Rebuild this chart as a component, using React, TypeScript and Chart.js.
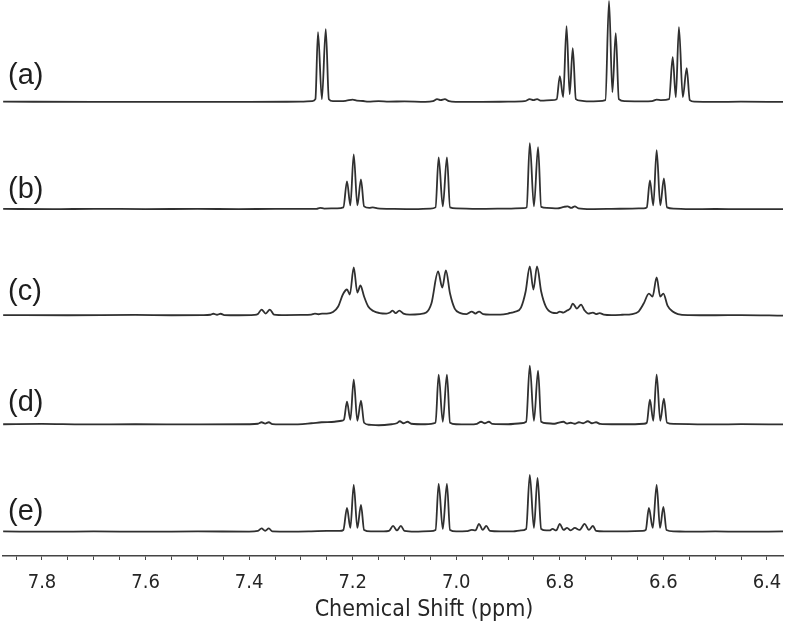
import React, { useEffect, useRef } from 'react';
import { Chart, registerables } from 'chart.js';

Chart.register(...registerables);

// ---- data (ppm, intensity) ----
const traceLabels = ['(a)', '(b)', '(c)', '(d)', '(e)'];
const axisTitle = 'Chemical Shift (ppm)';
const majorTicks = [7.8, 7.6, 7.4, 7.2, 7.0, 6.8, 6.6, 6.4];
const minorTicks = [7.85, 7.75, 7.7, 7.65, 7.55, 7.5, 7.45, 7.35, 7.3, 7.25, 7.15, 7.1, 7.05, 6.95, 6.9, 6.85, 6.75, 6.7, 6.65, 6.55, 6.5, 6.45];

const spectrumA: [number, number][] = [
  [7.875, 0.5], [7.7, 0.3], [7.55, 0.4], [7.4, 0.3], [7.3, 0.5], [7.278, 1], [7.272, 3], [7.267, 70], [7.2595, 3], [7.252, 73], [7.246, 3], [7.238, 1],
  [7.222, 1], [7.212, 1.5], [7.2, 2.5], [7.192, 1.5], [7.18, 1.2], [7.17, 0.5], [7.15, 1], [7.13, 0.6], [7.1, 0.8], [7.06, 0.4], [7.045, 1], [7.037, 3],
  [7.03, 2], [7.022, 3], [7.014, 1], [7.0, 0.4], [6.95, 0.3], [6.9, 0.5], [6.868, 1], [6.858, 3], [6.851, 2], [6.844, 3], [6.836, 1.5], [6.816, 2],
  [6.806, 3], [6.8, 26], [6.7935, 5], [6.787, 76], [6.781, 8], [6.775, 54], [6.769, 3], [6.76, 1.5], [6.745, 0.8], [6.725, 1], [6.712, 2], [6.705, 101],
  [6.6985, 10], [6.692, 69], [6.686, 3], [6.675, 1], [6.64, 0.8], [6.622, 1], [6.613, 2.5], [6.604, 2], [6.589, 3], [6.582, 45], [6.576, 5], [6.57, 75],
  [6.5625, 5], [6.555, 34], [6.549, 2], [6.54, 0.5], [6.5, 0.3], [6.45, 0.5], [6.369, 0.3],
];

const spectrumB: [number, number][] = [
  [7.875, 0.5], [7.78, 0.2], [7.7, 0.6], [7.6, 0.3], [7.5, 0.5], [7.42, 0.3], [7.35, 0.5], [7.27, 0.6], [7.263, 1.5], [7.255, 0.8], [7.23, 1], [7.218, 2],
  [7.211, 28], [7.2045, 4], [7.198, 55], [7.191, 4], [7.184, 30], [7.178, 3], [7.168, 1.5], [7.161, 2], [7.152, 1], [7.12, 0.5], [7.08, 0.3], [7.05, 0.8],
  [7.04, 2], [7.034, 52], [7.026, 3], [7.018, 52], [7.012, 2], [7.0, 1], [6.96, 0.5], [6.9, 0.8], [6.87, 1.2], [6.864, 2], [6.858, 66], [6.85, 3],
  [6.842, 62], [6.836, 2.5], [6.825, 1.5], [6.805, 1], [6.792, 2.5], [6.785, 3], [6.778, 1.5], [6.771, 3], [6.764, 1], [6.74, 0.3], [6.7, 0.5], [6.66, 0.8],
  [6.638, 1], [6.632, 2], [6.626, 29], [6.6195, 4], [6.613, 59], [6.606, 4], [6.599, 31], [6.593, 2], [6.58, 0.8], [6.55, 0.3], [6.5, 0.4], [6.45, 0.3], [6.369, 0.3],
];

const spectrumC: [number, number][] = [
  [7.875, 0.5], [7.75, 0.3], [7.62, 0.6], [7.55, 0.3], [7.49, 0.5], [7.475, 0.8], [7.469, 1.8], [7.462, 0.8], [7.455, 1.8], [7.448, 0.5], [7.42, 0.3],
  [7.39, 0.6], [7.383, 1.5], [7.376, 6], [7.368, 2], [7.36, 6], [7.352, 1], [7.33, 0.5], [7.3, 0.6], [7.28, 1], [7.273, 2], [7.266, 1.3], [7.259, 2],
  [7.25, 2], [7.238, 3.5], [7.228, 9], [7.219, 21], [7.211, 26], [7.2055, 21], [7.198, 48], [7.191, 23], [7.185, 30], [7.178, 19], [7.17, 9], [7.16, 4.5],
  [7.148, 2.5], [7.135, 2], [7.128, 3], [7.123, 5], [7.117, 2.5], [7.11, 5], [7.102, 2], [7.09, 1], [7.07, 1.5], [7.058, 3], [7.048, 12], [7.035, 44],
  [7.027, 28], [7.02, 45], [7.012, 22], [7.003, 7], [6.992, 2.5], [6.98, 1.5], [6.97, 4], [6.963, 2], [6.956, 4], [6.948, 1.5], [6.935, 1], [6.915, 1],
  [6.9, 2], [6.893, 3], [6.885, 4], [6.875, 8], [6.866, 24], [6.858, 49], [6.851, 26], [6.844, 49], [6.836, 24], [6.827, 9], [6.815, 3], [6.806, 2.5],
  [6.8, 4], [6.793, 3], [6.786, 5], [6.78, 7], [6.775, 12], [6.767, 7], [6.759, 11], [6.752, 5], [6.745, 2], [6.736, 3], [6.73, 1.5], [6.723, 2.5],
  [6.715, 1], [6.7, 0.5], [6.68, 0.8], [6.66, 1.5], [6.648, 4], [6.638, 12], [6.628, 22], [6.621, 19], [6.613, 38], [6.606, 19], [6.6, 22], [6.592, 10],
  [6.582, 4], [6.572, 1.5], [6.55, 0.5], [6.5, 0.3], [6.45, 0.5], [6.369, 0],
];

const spectrumD: [number, number][] = [
  [7.875, 0.5], [7.8, 0.8], [7.72, 0.3], [7.62, 0.5], [7.5, 0.3], [7.4, 0.5], [7.383, 1], [7.376, 2.5], [7.369, 1.2], [7.362, 2.5], [7.355, 0.6], [7.32, 0.3],
  [7.28, 1.5], [7.26, 2.5], [7.235, 3], [7.222, 4], [7.217, 5], [7.211, 23], [7.2045, 5], [7.198, 45], [7.191, 4], [7.184, 24], [7.178, 2], [7.168, 0],
  [7.15, -0.5], [7.125, 0.5], [7.115, 1.5], [7.109, 3.5], [7.102, 1.5], [7.094, 3], [7.087, 1], [7.06, 0.5], [7.04, 2], [7.034, 50], [7.026, 3], [7.018, 50],
  [7.012, 2], [7.0, 0.5], [6.975, 0.3], [6.96, 1], [6.952, 3], [6.945, 1.5], [6.937, 3], [6.93, 0.8], [6.9, 0.5], [6.875, 1.5], [6.865, 3], [6.858, 59],
  [6.85, 4], [6.842, 54], [6.836, 3], [6.825, 1.5], [6.81, 1], [6.8, 2.5], [6.793, 3], [6.786, 1.2], [6.779, 2], [6.771, 1], [6.763, 2.5], [6.755, 1.5],
  [6.746, 3.5], [6.738, 1.5], [6.73, 2.5], [6.722, 0.8], [6.7, 0.5], [6.66, 0.5], [6.638, 1], [6.632, 2], [6.626, 25], [6.6195, 4], [6.613, 50], [6.606, 4],
  [6.599, 26], [6.593, 2], [6.58, 0.8], [6.55, 0.6], [6.5, 0.3], [6.45, 0.6], [6.369, 0.3],
];

const spectrumE: [number, number][] = [
  [7.875, 0.5], [7.78, 0.3], [7.7, 0.5], [7.6, 0.3], [7.5, 0.5], [7.4, 0.4], [7.383, 1], [7.376, 3.5], [7.369, 1.2], [7.362, 3.5], [7.355, 0.5], [7.32, 0.3],
  [7.28, 0.6], [7.25, 1], [7.225, 1], [7.218, 2], [7.211, 24], [7.2045, 4], [7.198, 47], [7.191, 4], [7.184, 27], [7.178, 2], [7.165, 0.5], [7.14, 0.5],
  [7.13, 1], [7.122, 6], [7.1145, 1.5], [7.107, 6], [7.1, 1], [7.08, 0.3], [7.05, 0.8], [7.04, 2], [7.034, 48], [7.026, 3], [7.018, 48], [7.012, 2],
  [7.0, 0.5], [6.98, 0.8], [6.97, 2], [6.963, 1.5], [6.956, 8], [6.949, 2], [6.942, 6], [6.935, 1], [6.915, 0.5], [6.89, 0.5], [6.875, 1.5], [6.865, 3],
  [6.858, 57], [6.85, 4], [6.843, 54], [6.836, 3], [6.826, 1.5], [6.82, 1.5], [6.814, 3], [6.807, 1.5], [6.8, 8], [6.793, 2], [6.786, 4], [6.779, 1.5],
  [6.771, 4], [6.762, 2], [6.752, 8], [6.744, 2], [6.736, 6], [6.73, 1], [6.715, 0.5], [6.68, 0.5], [6.64, 1], [6.634, 2], [6.628, 24], [6.6205, 4],
  [6.613, 47], [6.6065, 4], [6.6, 25], [6.594, 2], [6.58, 0.6], [6.55, 0.3], [6.5, 0.5], [6.45, 0.3], [6.369, 0.5],
];

const spectra = [spectrumA, spectrumB, spectrumC, spectrumD, spectrumE];

// ---- layout / style ----
const WIDTH = 800;
const HEIGHT = 626;
const X_LEFT_PPM = 7.8753;
const X_RIGHT_PPM = 6.369;
const PLOT_TOP = 0;
const PLOT_BOTTOM = 555;
const traceBaselines = [102, 209, 315, 424, 531];
const labelBaselines = [84, 198, 300, 411, 520];
const LABEL_X = 8;
const TITLE_X = 424;
const TITLE_Y = 616;
const LINE_COLOR = '#303030';
const AXIS_COLOR = '#444444';
const TEXT_COLOR = '#262626';
const AXIS_FONT = "'DejaVu Sans Condensed', 'DejaVu Sans', sans-serif";
const LABEL_FONT = "'Liberation Sans', Arial, sans-serif";

const overlayText = {
  id: 'overlayText',
  afterDraw(chart: any) {
    const ctx = chart.ctx as CanvasRenderingContext2D;
    ctx.save();
    ctx.fillStyle = '#1e1e1e';
    ctx.textBaseline = 'alphabetic';
    ctx.textAlign = 'left';
    ctx.font = `29px ${LABEL_FONT}`;
    traceLabels.forEach((t, i) => ctx.fillText(t, LABEL_X, labelBaselines[i]));
    ctx.fillStyle = TEXT_COLOR;
    ctx.textAlign = 'center';
    ctx.font = `23px ${AXIS_FONT}`;
    ctx.fillText(axisTitle, TITLE_X, TITLE_Y);
    ctx.restore();
  },
};

export default function App() {
  const canvasRef = useRef<HTMLCanvasElement | null>(null);

  useEffect(() => {
    document.body.style.margin = '0';
    const canvas = canvasRef.current;
    if (!canvas) return;

    const yScales: Record<string, any> = {};
    traceBaselines.forEach((b, i) => {
      yScales['y' + i] = {
        type: 'linear',
        display: false,
        min: -(PLOT_BOTTOM - b),
        max: b - PLOT_TOP,
      };
    });

    const allTicks = [...majorTicks, ...minorTicks].sort((a, b) => a - b);

    const chart = new Chart(canvas, {
      type: 'line',
      data: {
        datasets: spectra.map((s, i) => ({
          label: traceLabels[i],
          data: s.map(([x, y]) => ({ x, y })),
          yAxisID: 'y' + i,
          borderColor: LINE_COLOR,
          borderWidth: 1.8,
          pointRadius: 0,
          fill: false,
          cubicInterpolationMode: 'monotone' as const,
          clip: false as any,
        })),
      },
      options: {
        responsive: false,
        animation: false,
        devicePixelRatio: 1,
        layout: { padding: { left: 3, right: 17, top: 0, bottom: 20 } },
        plugins: { legend: { display: false }, tooltip: { enabled: false }, title: { display: false } },
        scales: {
          x: {
            type: 'linear',
            reverse: true,
            min: X_RIGHT_PPM,
            max: X_LEFT_PPM,
            afterBuildTicks: (scale: any) => {
              scale.ticks = allTicks.map((v) => ({ value: v }));
            },
            ticks: {
              autoSkip: false,
              maxRotation: 0,
              padding: 11,
              color: TEXT_COLOR,
              font: { family: AXIS_FONT, size: 20 },
              callback: (v: any) => (majorTicks.some((m) => Math.abs(m - Number(v)) < 1e-6) ? Number(v).toFixed(1) : ''),
            },
            grid: { drawOnChartArea: false, drawTicks: true, tickLength: 4, color: AXIS_COLOR, lineWidth: 1 },
            border: { display: true, color: AXIS_COLOR, width: 1.5 },
          },
          ...yScales,
        },
      },
      plugins: [overlayText],
    } as any);

    return () => chart.destroy();
  }, []);

  return (
    <div style={{ width: WIDTH, height: HEIGHT, background: '#fff' }}>
      <canvas ref={canvasRef} width={WIDTH} height={HEIGHT} style={{ display: 'block' }} />
    </div>
  );
}
